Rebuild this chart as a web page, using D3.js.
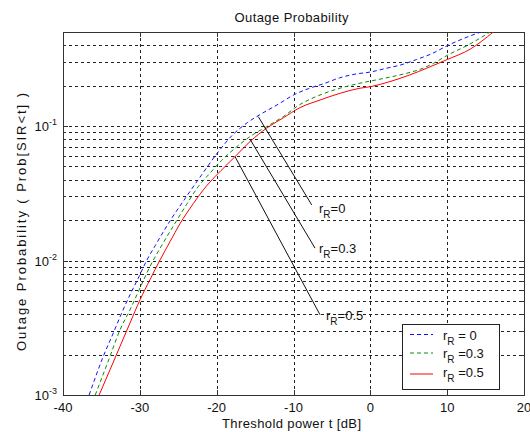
<!DOCTYPE html>
<html><head><meta charset="utf-8">
<script src="https://cdn.jsdelivr.net/npm/d3@7"></script>
<style>
html,body{margin:0;padding:0;background:#fff;}
svg{display:block;}
text{font-family:"Liberation Sans",Arial,Helvetica,sans-serif;fill:#111;}
</style>
</head><body>
<svg id="c" width="530" height="432"></svg>
<script>
// ---------- data ----------
const xTicks = [-40, -30, -20, -10, 0, 10, 20];
const yTickExps = [-3, -2, -1];
const titleText = "Outage Probability";
const xLabelText = "Threshold power t [dB]";
const yLabelText = "Outage Probability ( Prob[SIR<t] )";

// r_R = 0 (blue dashed)
const seriesR0 = [
  [-36.6, 0.0010], [-34.75, 0.00194], [-33.45, 0.00289], [-32.36, 0.00407],
  [-31.28, 0.00556], [-30.2, 0.0074], [-29.11, 0.0100], [-28.0, 0.0129],
  [-26.0, 0.0200], [-24.0, 0.0295], [-22.0, 0.0430], [-20.0, 0.0620],
  [-18.0, 0.0850], [-16.0, 0.1060], [-14.0, 0.1250], [-12.0, 0.1450],
  [-10.0, 0.1700], [-8.0, 0.1900], [-6.0, 0.2070], [-4.0, 0.2280],
  [-2.0, 0.2430], [0.0, 0.2520], [2.0, 0.2680], [4.0, 0.2850],
  [6.0, 0.3120], [8.0, 0.3450], [10.0, 0.3950], [12.2, 0.4490], [14.4, 0.5]
];
// r_R = 0.3 (green dashed)
const seriesR03 = [
  [-35.8, 0.0010], [-33.88, 0.00194], [-32.58, 0.00305], [-31.28, 0.0043],
  [-29.98, 0.00624], [-28.68, 0.00902], [-27.2, 0.0128], [-25.6, 0.0182],
  [-23.9, 0.0262], [-22.39, 0.0355], [-20.87, 0.0446], [-19.35, 0.0555],
  [-17.39, 0.0700], [-15.66, 0.0834], [-13.49, 0.0990], [-11.33, 0.1175],
  [-9.2, 0.1440], [-6.55, 0.1700], [-3.95, 0.1910], [-1.35, 0.2080],
  [1.26, 0.2230], [3.86, 0.2400], [6.47, 0.2640], [8.2, 0.2920],
  [10.0, 0.3350], [12.97, 0.4070], [15.58, 0.5]
];
// r_R = 0.5 (red solid)
const seriesR05 = [
  [-35.3, 0.0010], [-33.88, 0.00154], [-32.58, 0.0023], [-31.28, 0.00343],
  [-29.98, 0.0051], [-28.68, 0.0072], [-27.37, 0.0101], [-26.07, 0.0138],
  [-24.77, 0.0188], [-23.04, 0.0265], [-21.74, 0.0335], [-20.22, 0.0420],
  [-18.69, 0.0514], [-17.39, 0.0610], [-15.66, 0.0766], [-13.49, 0.0964],
  [-11.33, 0.1150], [-9.15, 0.1370], [-6.55, 0.1560], [-3.95, 0.1750],
  [-1.35, 0.1910], [0.0, 0.1960], [2.56, 0.2140], [5.16, 0.2400],
  [7.34, 0.2690], [10.0, 0.3120], [12.97, 0.3720], [16.0, 0.5]
];
const seriesNames = ["r_R = 0", "r_R =0.3", "r_R =0.5"];
const legendTails = [" = 0", " =0.3", " =0.5"];
const annotTails = ["=0", "=0.3", "=0.5"];
// annotation pointer lines (data space)
const annotFrom = [[-14.58, 0.1174], [-15.66, 0.0798], [-17.61, 0.0592]];
const annotTo   = [[-7.63, 0.0259], [-7.2, 0.01236], [-6.55, 0.00395]];
const annotLabelAt = [[-6.68, 0.0226], [-6.68, 0.01135], [-5.77, 0.00362]];

// ---------- layout ----------
const W = 530, H = 432;
const L = 63, R = 524, T = 32, B = 395;
const x = d3.scaleLinear().domain([-40, 20]).range([L, R]);
const y = d3.scaleLog().domain([1e-3, 0.5]).range([B, T]);

const svg = d3.select("#c");
svg.append("rect").attr("width", W).attr("height", H).attr("fill", "#fff");

const gridColor = "#222";
const g = svg.append("g").attr("shape-rendering", "crispEdges");

// horizontal grid (log decades 1..9)
const gridY = [];
for (let e = -3; e <= -1; e++) for (let k = 1; k <= 9; k++) {
  const v = k * Math.pow(10, e);
  if (v > 1.0001e-3 && v < 0.4999) gridY.push(v);
}
g.selectAll(".gy").data(gridY).enter().append("line")
  .attr("x1", L).attr("x2", R)
  .attr("y1", d => Math.round(y(d)) + 0.5).attr("y2", d => Math.round(y(d)) + 0.5)
  .attr("stroke", gridColor).attr("stroke-width", 1).attr("stroke-dasharray", "3,3");

// vertical grid
g.selectAll(".gx").data(xTicks.slice(1, -1)).enter().append("line")
  .attr("x1", d => Math.round(x(d)) + 0.5).attr("x2", d => Math.round(x(d)) + 0.5)
  .attr("y1", T).attr("y2", B)
  .attr("stroke", gridColor).attr("stroke-width", 1).attr("stroke-dasharray", "3,3");

// ticks (inward)
const tk = svg.append("g").attr("stroke", "#333").attr("shape-rendering", "crispEdges");
xTicks.forEach(d => {
  const px = Math.round(x(d)) + 0.5;
  tk.append("line").attr("x1", px).attr("x2", px).attr("y1", B).attr("y2", B - 5);
  tk.append("line").attr("x1", px).attr("x2", px).attr("y1", T).attr("y2", T + 5);
});
gridY.concat([1e-3]).forEach(v => {
  const py = Math.round(y(v)) + 0.5;
  const major = Math.abs(Math.log10(v) - Math.round(Math.log10(v))) < 1e-6;
  const len = major ? 5 : 3;
  tk.append("line").attr("x1", L).attr("x2", L + len).attr("y1", py).attr("y2", py);
  tk.append("line").attr("x1", R).attr("x2", R - len).attr("y1", py).attr("y2", py);
});

// box
svg.append("rect").attr("x", L + 0.5).attr("y", T + 0.5)
  .attr("width", R - L).attr("height", B - T)
  .attr("fill", "none").attr("stroke", "#333").attr("stroke-width", 1)
  .attr("shape-rendering", "crispEdges");

// curves
const line = d3.line().x(d => x(d[0])).y(d => y(d[1])).curve(d3.curveMonotoneX);
svg.append("clipPath").attr("id", "pc").append("rect")
  .attr("x", L).attr("y", T).attr("width", R - L).attr("height", B - T);
const curves = svg.append("g").attr("clip-path", "url(#pc)");
const seriesData = [seriesR0, seriesR03, seriesR05];
const seriesColor = ["#1010ff", "#0a8a0a", "#ff0000"];
const seriesDash = ["4,3", "4,3", null];
seriesData.forEach((s, i) => {
  curves.append("path").datum(s).attr("d", line)
    .attr("fill", "none").attr("stroke", seriesColor[i]).attr("stroke-width", 1)
    .attr("stroke-dasharray", seriesDash[i]);
});

// annotation lines
annotFrom.forEach((a, i) => {
  svg.append("line")
    .attr("x1", x(a[0])).attr("y1", y(a[1]))
    .attr("x2", x(annotTo[i][0])).attr("y2", y(annotTo[i][1]))
    .attr("stroke", "#111").attr("stroke-width", 1);
  const t = svg.append("text").attr("x", x(annotLabelAt[i][0])).attr("y", y(annotLabelAt[i][1]))
    .attr("font-size", 13);
  t.append("tspan").text("r");
  t.append("tspan").attr("font-size", 10).attr("dy", 5).text("R");
  t.append("tspan").attr("dy", -5).text(annotTails[i]);
});

// x tick labels
svg.selectAll(".xl").data(xTicks).enter().append("text")
  .attr("x", d => x(d)).attr("y", 412).attr("text-anchor", "middle")
  .attr("font-size", 13).text(d => d);

// y tick labels
yTickExps.forEach(e => {
  const t = svg.append("text").attr("x", 57).attr("y", y(Math.pow(10, e)) + 5)
    .attr("text-anchor", "end").attr("font-size", 13);
  t.append("tspan").text("10");
  t.append("tspan").attr("font-size", 9).attr("dy", -6).text(String(e));
});

// title and labels
svg.append("text").attr("x", (L + R) / 2 - 2).attr("y", 22).attr("text-anchor", "middle")
  .attr("font-size", 13).attr("textLength", 114).attr("lengthAdjust", "spacing").text(titleText);
svg.append("text").attr("x", (L + R) / 2 - 2).attr("y", 428).attr("text-anchor", "middle")
  .attr("font-size", 13).attr("textLength", 139).attr("lengthAdjust", "spacing").text(xLabelText);
svg.append("text").attr("transform", `translate(26,222) rotate(-90)`).attr("text-anchor", "middle")
  .attr("font-size", 13).attr("textLength", 258).attr("lengthAdjust", "spacing").text(yLabelText);

// legend
const lg = svg.append("g");
lg.append("rect").attr("x", 402.5).attr("y", 324.5).attr("width", 97).attr("height", 65)
  .attr("fill", "#fff").attr("stroke", "#222").attr("shape-rendering", "crispEdges");
const rowText = [339.5, 358, 376.5];
const rowLine = [334.5, 353, 374];
seriesNames.forEach((n, i) => {
  lg.append("line").attr("x1", 410).attr("x2", 433).attr("y1", rowLine[i]).attr("y2", rowLine[i])
    .attr("stroke", seriesColor[i]).attr("stroke-width", 1).attr("stroke-dasharray", seriesDash[i]);
  const t = lg.append("text").attr("x", 443).attr("y", rowText[i]).attr("font-size", 13);
  t.append("tspan").text("r");
  t.append("tspan").attr("font-size", 10).attr("dy", 5).text("R");
  t.append("tspan").attr("dy", -5).text(legendTails[i]);
});
</script>
</body></html>
